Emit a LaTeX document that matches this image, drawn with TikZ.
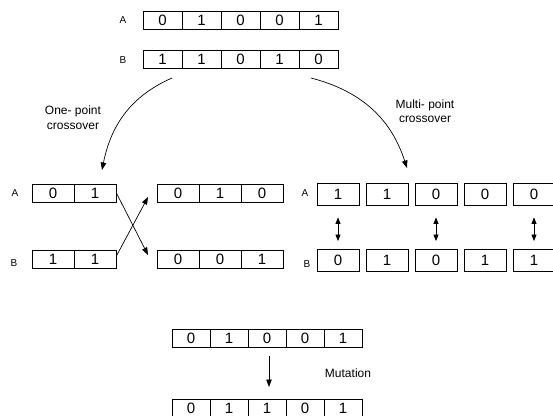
\documentclass[tikz,border=0pt]{standalone}
\usepackage{fontspec}
\setmainfont{Liberation Sans}
\usetikzlibrary{arrows.meta}
\begin{document}
\begin{tikzpicture}[x=1pt,y=-1pt,
  bit/.style={draw, line width=0.8pt, inner sep=0pt, minimum height=18pt,
              font=\fontsize{15}{17}\selectfont},
  tag/.style={font=\fontsize{10}{12}\selectfont},
  caption/.style={font=\fontsize{12}{15}\selectfont, align=center},
  link/.style={line width=0.7pt, -{Triangle[length=7.5pt,width=5.5pt]}},
  swap/.style={line width=0.7pt,
               {Triangle[length=6.5pt,width=5pt]}-{Triangle[length=6.5pt,width=5pt]}}
]
\useasboundingbox (0,0) rectangle (553,415);

% parent chromosomes
\node[tag] (pa) at (123,20) {A};
\node[tag] (pb) at (123,60) {B};
\foreach \d [count=\i from 0] in {0,1,0,0,1}
  \node[bit, minimum width=39pt] (ta\i) at (162.5+39*\i,20.5) {\d};
\foreach \d [count=\i from 0] in {1,1,0,1,0}
  \node[bit, minimum width=39pt] (tb\i) at (162.5+39*\i,59) {\d};

% one-point crossover
\node[tag] (oa) at (15,193) {A};
\node[tag] (ob) at (14,263) {B};
\foreach \d [count=\i from 0] in {0,1}
  \node[bit, minimum width=42pt] (la\i) at (53+42*\i,193) {\d};
\foreach \d [count=\i from 0] in {1,1}
  \node[bit, minimum width=42pt] (lb\i) at (53+42*\i,259.5) {\d};
\foreach \d [count=\i from 0] in {0,1,0}
  \node[bit, minimum width=42pt] (ma\i) at (178+42*\i,193) {\d};
\foreach \d [count=\i from 0] in {0,0,1}
  \node[bit, minimum width=42pt] (mb\i) at (178+42*\i,259.5) {\d};

\coordinate (xa) at (148,255);
\coordinate (xb) at (148,197);
\draw[link] (la1.north east |- 0,193) -- (xa);
\draw[link] (lb1.north east |- 0,256) -- (xb);

% multi-point crossover
\node[tag] (ra) at (305,193) {A};
\node[tag] (rb) at (307,264) {B};
\foreach \d [count=\i from 0] in {1,1,0,0,0}
  \node[bit, minimum width=42pt, minimum height=22pt] (mpa\i) at (338+49*\i,194.5) {\d};
\foreach \d [count=\i from 0] in {0,1,0,1,1}
  \node[bit, minimum width=42pt, minimum height=22pt] (mpb\i) at (338+49*\i,260.5) {\d};
\foreach \i in {0,2,4}
  \draw[swap] ([yshift=-11.5pt]mpa\i.south) -- ([yshift=8pt]mpb\i.north);

% crossover captions and arrows
\node[caption] (one) at (73,117.5) {One- point\\crossover};
\node[caption, font=\fontsize{12}{14}\selectfont] (multi) at (425,111) {Multi- point\\crossover};
\coordinate (cls) at (172,78);
\coordinate (cle) at (102,170);
\coordinate (crs) at (311,78);
\coordinate (cre) at (407,168);
\draw[link] (cls) .. controls (131,96) and (111,125) .. (cle);
\draw[link] (crs) .. controls (365,92) and (392,122) .. (cre);

% mutation
\foreach \d [count=\i from 0] in {0,1,0,0,1}
  \node[bit, minimum width=38pt] (ua\i) at (191+38*\i,338) {\d};
\foreach \d [count=\i from 0] in {0,1,1,0,1}
  \node[bit, minimum width=38pt] (ub\i) at (191+38*\i,408) {\d};
\coordinate (ms) at (269,356);
\coordinate (me) at (269,387);
\draw[link] (ms) -- (me);
\node[caption] (mut) at (348,373) {Mutation};
\end{tikzpicture}
\end{document}
